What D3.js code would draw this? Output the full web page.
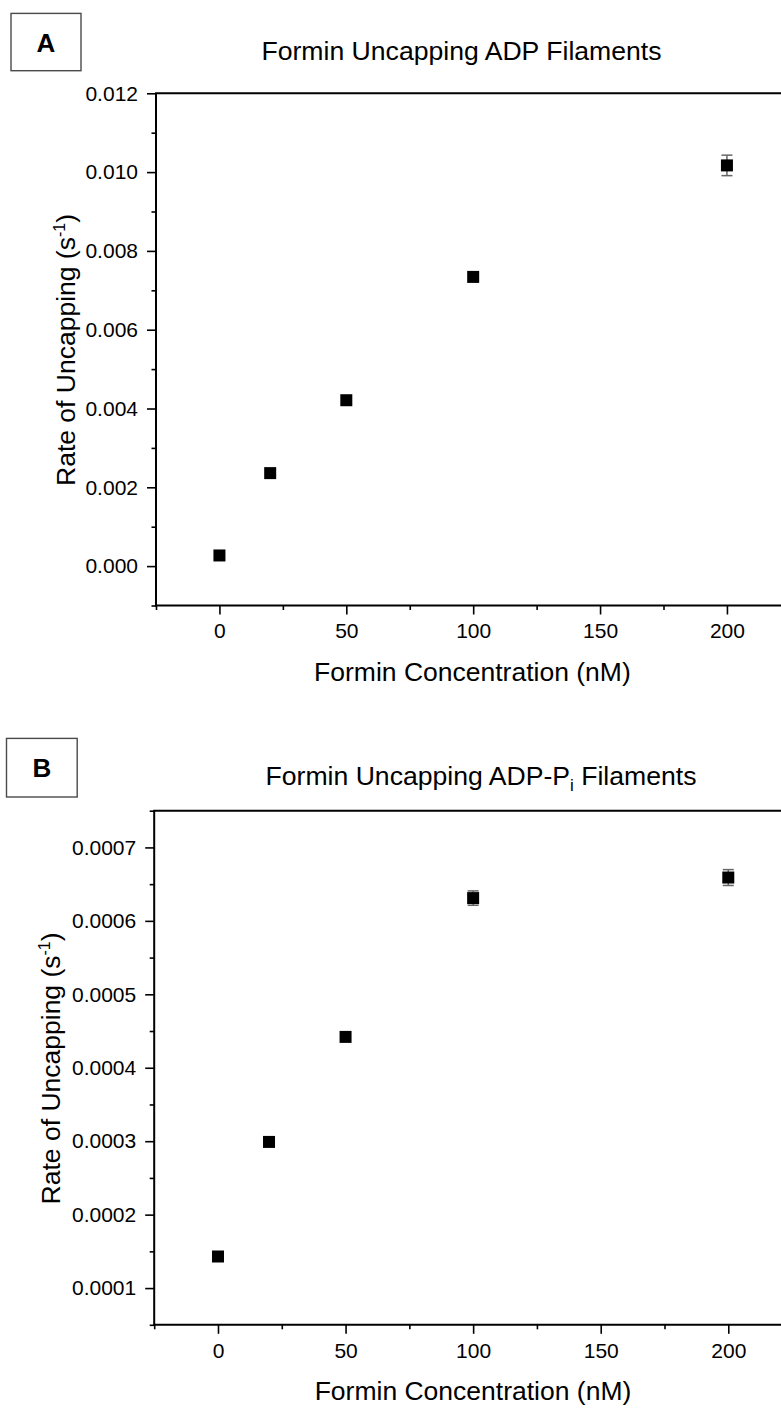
<!DOCTYPE html>
<html><head><meta charset="utf-8">
<script src="https://cdn.jsdelivr.net/npm/d3@7"></script>
<style>
body{margin:0;background:#fff}
svg{display:block}
text{font-family:"Liberation Sans",Arial,Helvetica,sans-serif;fill:#000}
</style>
</head><body>
<svg id="c" width="781" height="1408"></svg>
<script>
// ---- data ----
const concA = [0, 20, 50, 100, 200];
const rateA = [0.00027, 0.00236, 0.00421, 0.00734, 0.01017];
const errA  = [0, 0, 0, 0, 0.00026];
const concB = [0, 20, 50, 100, 200];
const rateB = [0.000143, 0.000299, 0.000442, 0.000631, 0.000659];
const errB  = [0, 0, 0, 0.0000098, 0.0000108];
const xDomain = [-25, 225];
const xTicks = [0, 50, 100, 150, 200];
const xMinor = [-25, 25, 75, 125, 175, 225];
const yDomainA = [-0.001, 0.012];
const yTicksA = [0, 0.002, 0.004, 0.006, 0.008, 0.010, 0.012];
const yMinorA = [-0.001, 0.001, 0.003, 0.005, 0.007, 0.009, 0.011];
const yDomainB = [0.00005, 0.00075];
const yTicksB = [0.0001, 0.0002, 0.0003, 0.0004, 0.0005, 0.0006, 0.0007];
const yMinorB = [0.00005, 0.00015, 0.00025, 0.00035, 0.00045, 0.00055, 0.00065, 0.00075];
const titleA = "Formin Uncapping ADP Filaments";
const titleB = ["Formin Uncapping ADP-P", "i", " Filaments"];
const xLabel = "Formin Concentration (nM)";
const yLabel = ["Rate of Uncapping (s", "-1", ")"];

const svg = d3.select("#c");

function panel(cfg){
  const g = svg.append("g");
  const x = d3.scaleLinear().domain(xDomain).range([cfg.left, cfg.left + (xDomain[1]-xDomain[0])*cfg.pxPerUnit]);
  const y = d3.scaleLinear().domain(cfg.yDomain).range([cfg.bottom, cfg.top]);

  // label box
  g.append("rect").attr("x", cfg.box[0]).attr("y", cfg.box[1]).attr("width", cfg.box[2]).attr("height", cfg.box[3])
    .attr("fill", "none").attr("stroke", "#4a4a4a").attr("stroke-width", 1.4);
  g.append("text").attr("x", cfg.letterPos[0]).attr("y", cfg.letterPos[1]).attr("text-anchor", "middle")
    .style("font-size", "26px").style("font-weight", "bold").text(cfg.letter);

  // title
  const t = g.append("text").attr("x", cfg.titlePos[0]).attr("y", cfg.titlePos[1]).attr("text-anchor", "middle").style("font-size", "26.6px");
  if (Array.isArray(cfg.title)) {
    t.append("tspan").text(cfg.title[0]);
    t.append("tspan").attr("dy", 6).style("font-size", "17px").text(cfg.title[1]);
    t.append("tspan").attr("dy", -6).text(cfg.title[2]);
  } else t.text(cfg.title);

  // axes (ticks)
  const tickStyle = sel => { sel.select(".domain").remove(); sel.selectAll(".tick line").attr("stroke", "#000").attr("stroke-width", 1.6);
    sel.selectAll(".tick text").style("font-size", "21px").style("font-family", '"Liberation Sans",Arial,sans-serif').attr("fill", "#000"); };
  g.append("g").attr("transform", `translate(0,${cfg.bottom})`)
    .call(d3.axisBottom(x).tickValues(xTicks).tickSize(9).tickPadding(9).tickFormat(d3.format("d"))).call(tickStyle);
  g.append("g").attr("transform", `translate(0,${cfg.bottom})`)
    .call(d3.axisBottom(x).tickValues(xMinor).tickSize(4.5).tickFormat("")).call(tickStyle);
  g.append("g").attr("transform", `translate(${cfg.left},0)`)
    .call(d3.axisLeft(y).tickValues(cfg.yTicks).tickSize(9).tickPadding(9).tickFormat(d3.format(cfg.yFmt))).call(tickStyle);
  g.append("g").attr("transform", `translate(${cfg.left},0)`)
    .call(d3.axisLeft(y).tickValues(cfg.yMinor).tickSize(4.5).tickFormat("")).call(tickStyle);

  // frame lines
  const right = x.range()[1];
  g.append("line").attr("x1", cfg.left).attr("x2", cfg.left).attr("y1", cfg.top).attr("y2", cfg.bottom + 1).attr("stroke", "#000").attr("stroke-width", 2);
  g.append("line").attr("x1", cfg.left - 1).attr("x2", right).attr("y1", cfg.bottom).attr("y2", cfg.bottom).attr("stroke", "#000").attr("stroke-width", 2);
  g.append("line").attr("x1", cfg.left - 1).attr("x2", right).attr("y1", cfg.top).attr("y2", cfg.top).attr("stroke", "#000").attr("stroke-width", 2);

  // axis labels
  g.append("text").attr("x", cfg.xLabelPos[0]).attr("y", cfg.xLabelPos[1]).attr("text-anchor", "middle").style("font-size", "26.5px").text(xLabel);
  const yl = g.append("text").attr("transform", `translate(${cfg.yLabelPos[0]},${cfg.yLabelPos[1]}) rotate(-90)`).attr("text-anchor", "middle").style("font-size", "26.5px");
  yl.append("tspan").text(yLabel[0]);
  yl.append("tspan").attr("dy", -10).style("font-size", "16px").text(yLabel[1]);
  yl.append("tspan").attr("dy", 10).text(yLabel[2]);

  // data
  const data = cfg.conc.map((c, i) => ({c, v: cfg.rate[i], e: cfg.err[i]}));
  const eb = g.append("g").attr("stroke", "#666").attr("stroke-width", 1.5);
  data.filter(d => d.e > 0).forEach(d => {
    const cx = x(d.c), y1 = y(d.v + d.e), y2 = y(d.v - d.e);
    eb.append("line").attr("x1", cx).attr("x2", cx).attr("y1", y1).attr("y2", y2);
    eb.append("line").attr("x1", cx - 5.5).attr("x2", cx + 5.5).attr("y1", y1).attr("y2", y1);
    eb.append("line").attr("x1", cx - 5.5).attr("x2", cx + 5.5).attr("y1", y2).attr("y2", y2);
  });
  const s = 12;
  g.append("g").selectAll("rect").data(data).join("rect")
    .attr("x", d => x(d.c) - s/2).attr("y", d => y(d.v) - s/2).attr("width", s).attr("height", s).attr("fill", "#000");
}

panel({
  left: 156, pxPerUnit: 2.5375, top: 93.3, bottom: 605.5,
  yDomain: yDomainA, yTicks: yTicksA, yMinor: yMinorA, yFmt: ".3f",
  box: [11, 13.4, 70, 57.3], letter: "A", letterPos: [46, 52],
  title: titleA, titlePos: [461.5, 60],
  xLabelPos: [472.4, 681], yLabelPos: [75, 350],
  conc: concA, rate: rateA, err: errA
});
panel({
  left: 154.2, pxPerUnit: 2.5515, top: 810.7, bottom: 1324.8,
  yDomain: yDomainB, yTicks: yTicksB, yMinor: yMinorB, yFmt: ".4f",
  box: [6.5, 738.4, 70.7, 58.6], letter: "B", letterPos: [42, 777],
  title: titleB, titlePos: [481, 785],
  xLabelPos: [473, 1400], yLabelPos: [60, 1068.4],
  conc: concB, rate: rateB, err: errB
});
</script>
</body></html>
